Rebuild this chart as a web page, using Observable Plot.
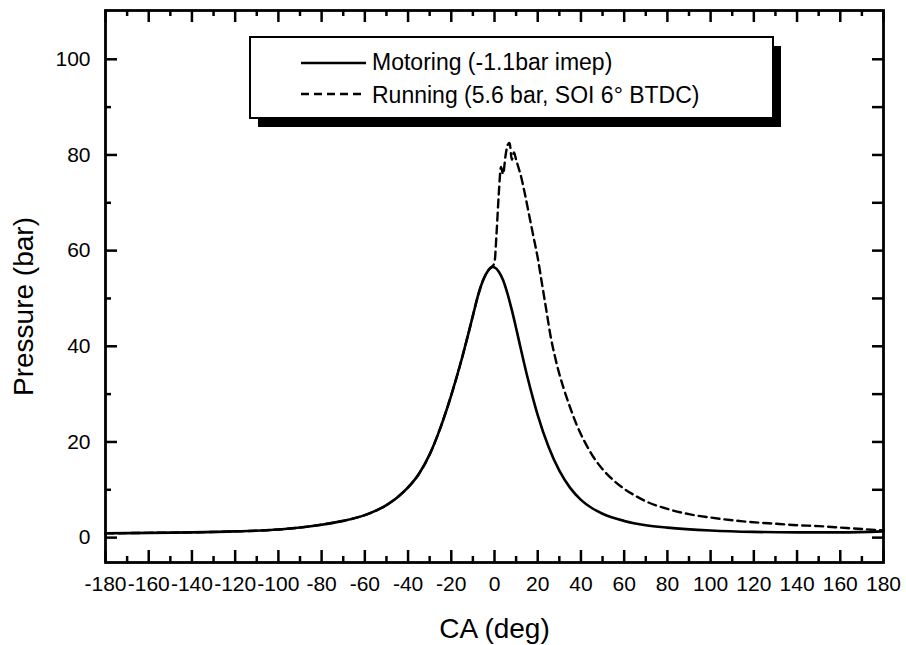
<!DOCTYPE html>
<html>
<head>
<meta charset="utf-8">
<script src="https://cdn.jsdelivr.net/npm/d3@7"></script>
<script src="https://cdn.jsdelivr.net/npm/@observablehq/plot@0.6"></script>
<style>
  html, body { margin: 0; padding: 0; background: #fff; }
  #chart svg { display: block; }
  #chart svg g[aria-label="x-axis tick label"],
  #chart svg g[aria-label="y-axis tick label"] { font-size: 21px !important; }
</style>
</head>
<body>
<div id="chart"></div>
<script>
// ---- data ----
const xTicks = [-180,-160,-140,-120,-100,-80,-60,-40,-20,0,20,40,60,80,100,120,140,160,180];
const xMinor = [-170,-150,-130,-110,-90,-70,-50,-30,-10,10,30,50,70,90,110,130,150,170];
const yTicks = [0,20,40,60,80,100];
const yMinor = [10,30,50,70,90];
const yRightTicks = [0,10,20,30,40,50,60,70,80,90,100];

const motoringCA = [-180,-160,-140,-120,-100,-90,-80,-70,-60,-50,-45,-40,-35,-30,-25,-20,-15,-12,-10,-7.5,-5,-3,-1,0,2,4,6,8,10,12,15,18,20,25,30,35,40,45,50,60,70,80,100,120,140,160,180];
const motoringP  = [0.9,1.0,1.1,1.3,1.7,2.1,2.7,3.5,4.7,6.8,8.4,10.5,13.3,17.4,23.0,29.8,37.6,42.8,46.4,50.8,54.1,55.8,56.6,56.5,55.6,53.8,51.0,47.6,43.8,39.8,34.0,28.8,25.6,19.0,14.0,10.4,7.9,6.2,5.0,3.5,2.6,2.1,1.5,1.2,1.1,1.1,1.3];

const runningCA = [-180,-160,-140,-120,-100,-90,-80,-70,-60,-50,-45,-40,-35,-30,-25,-20,-15,-12,-10,-7.5,-5,-3,-1,0,1,2,3,4,5,6,7,8,9,10,11,12,14,16,18,20,22,24,26,28,30,32,35,38,42,46,50,55,60,65,70,80,90,100,115,130,140,150,163,170,180];
const runningP  = [0.9,1.0,1.1,1.3,1.7,2.1,2.7,3.5,4.7,6.8,8.4,10.5,13.3,17.4,23.0,29.8,37.6,42.8,46.4,50.8,54.1,55.8,56.7,57.5,64,72,77.5,76,79.5,82,82.5,79,80.5,79,77.5,76,72,67.5,63,58.5,53,47.5,42,37.8,34.2,31.2,27.2,23.6,19.8,16.7,14.3,12.0,10.2,8.8,7.6,6.0,4.9,4.2,3.4,2.9,2.6,2.4,2.0,1.8,1.5];

const seriesNames = ["Motoring (-1.1bar imep)", "Running (5.6 bar, SOI 6° BTDC)"];
const xLabel = "CA (deg)";
const yLabel = "Pressure (bar)";

const motoring = motoringCA.map((ca, i) => ({ca, p: motoringP[i]}));
const running = runningCA.map((ca, i) => ({ca, p: runningP[i]}));

const W = 906, H = 645;
const mTop = 10, mRight = 23, mBottom = 83, mLeft = 105;
const plotW = W - mLeft - mRight, plotH = H - mTop - mBottom;
const font = "'Liberation Sans', Arial, Helvetica, sans-serif";
const sw = 2.5;

const chart = Plot.plot({
  width: W,
  height: H,
  marginTop: mTop,
  marginRight: mRight,
  marginBottom: mBottom,
  marginLeft: mLeft,
  style: {fontFamily: font, fontSize: "21px", color: "#000", background: "#fff", overflow: "visible"},
  x: {domain: [-180, 180], label: null},
  y: {domain: [-5.2, 110.2], label: null},
  marks: [
    // tick labels
    Plot.axisX(xTicks, {anchor: "bottom", tickSize: 0, tickPadding: 14, fontSize: 21, tickFormat: d => String(d), label: null}),
    Plot.axisY(yTicks, {anchor: "left", tickSize: 0, tickPadding: 15, fontSize: 21, tickFormat: d => String(d), label: null}),
    // inward ticks
    Plot.tickX(xTicks, {x: d => d, insetTop: plotH - 12, stroke: "#000", strokeWidth: sw}),
    Plot.tickX(xMinor, {x: d => d, insetTop: plotH - 6, stroke: "#000", strokeWidth: sw}),
    Plot.tickX(xTicks, {x: d => d, insetBottom: plotH - 12, stroke: "#000", strokeWidth: sw}),
    Plot.tickX(xMinor, {x: d => d, insetBottom: plotH - 6, stroke: "#000", strokeWidth: sw}),
    Plot.tickY(yTicks, {y: d => d, insetRight: plotW - 12, stroke: "#000", strokeWidth: sw}),
    Plot.tickY(yMinor, {y: d => d, insetRight: plotW - 6, stroke: "#000", strokeWidth: sw}),
    Plot.tickY(yRightTicks, {y: d => d, insetLeft: plotW - 11, stroke: "#000", strokeWidth: sw}),
    // curves
    Plot.line(running, {x: "ca", y: "p", stroke: "#000", strokeWidth: 2.4, strokeDasharray: "8,5", curve: "monotone-x"}),
    Plot.line(motoring, {x: "ca", y: "p", stroke: "#000", strokeWidth: 2.6, curve: "monotone-x"}),
    // frame
    Plot.frame({stroke: "#000", strokeWidth: 2.8}),
    // axis titles
    Plot.text([xLabel], {text: d => d, frameAnchor: "bottom", textAnchor: "middle", lineAnchor: "middle", dy: 67, fontSize: 28, fill: "#000"}),
    Plot.text([yLabel], {text: d => d, frameAnchor: "left", textAnchor: "middle", lineAnchor: "middle", rotate: -90, dx: -81, dy: 20, fontSize: 28, fill: "#000"})
  ]
});

// legend box with drop shadow
const svg = d3.select(chart);
const lg = svg.append("g").attr("font-family", font).attr("text-anchor", "start");
const bx = 250, by = 37, bw = 523, bh = 81;
lg.append("rect").attr("x", bx + 8).attr("y", by + 9).attr("width", bw).attr("height", bh).attr("fill", "#000");
lg.append("rect").attr("x", bx).attr("y", by).attr("width", bw).attr("height", bh)
  .attr("fill", "#fff").attr("stroke", "#000").attr("stroke-width", 2);
const rows = [
  {y: 63, ty: 70, dash: null},
  {y: 94, ty: 103, dash: "8,5"}
];
rows.forEach((r, i) => {
  lg.append("line").attr("x1", 301).attr("x2", 366).attr("y1", r.y).attr("y2", r.y)
    .attr("stroke", "#000").attr("stroke-width", 2.4)
    .attr("stroke-dasharray", r.dash);
  lg.append("text").attr("x", 372).attr("y", r.ty).attr("font-size", 23).attr("fill", "#000")
    .attr("text-anchor", "start")
    .text(seriesNames[i]);
});

document.getElementById("chart").appendChild(chart);
</script>
</body>
</html>
